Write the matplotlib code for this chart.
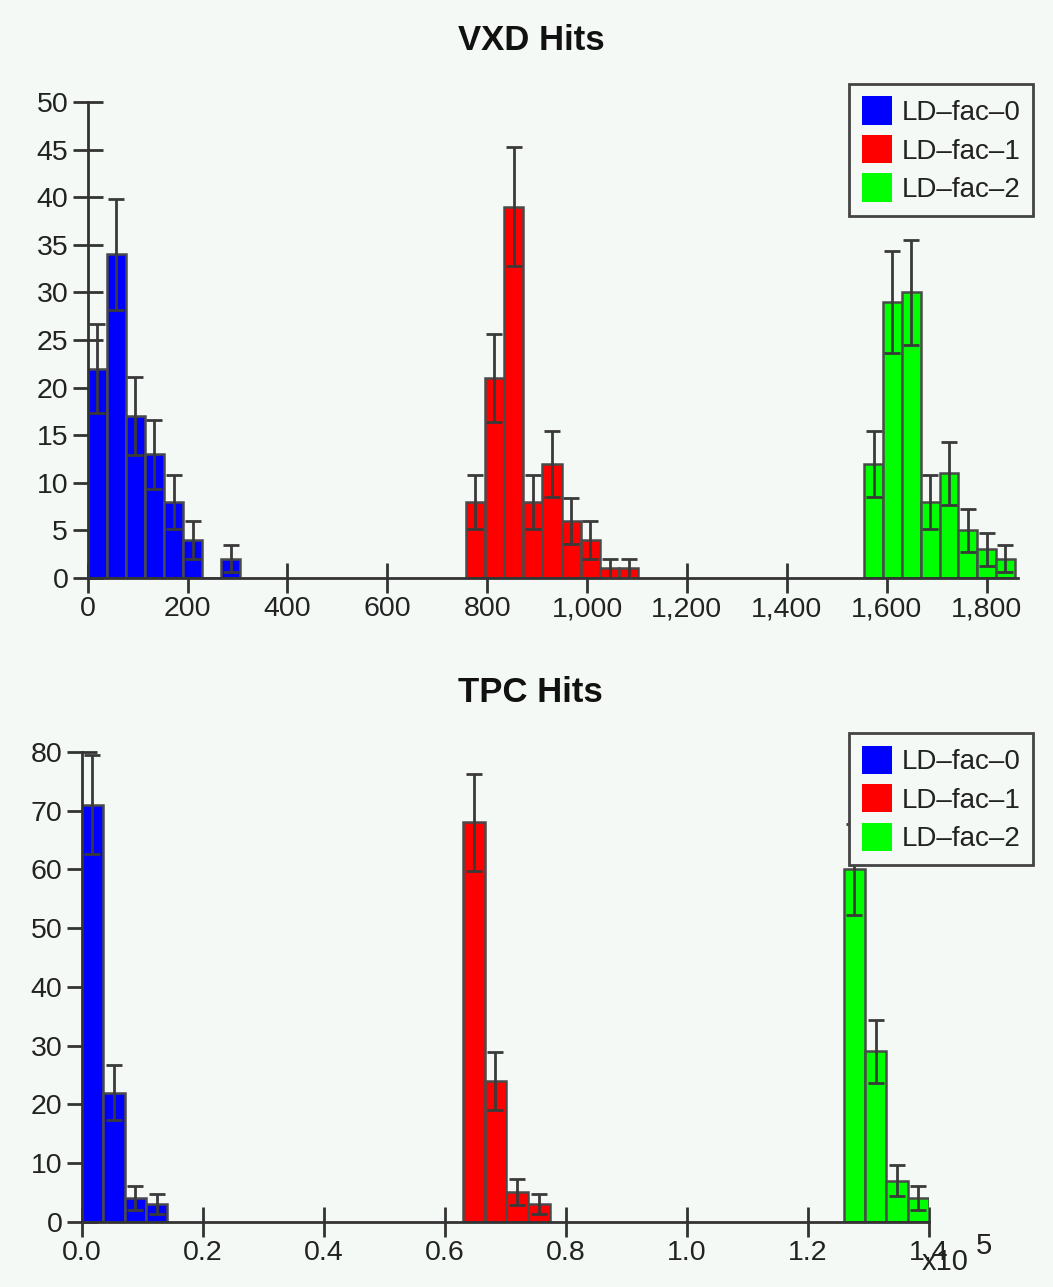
import numpy as np
import matplotlib.pyplot as plt
from matplotlib.patches import Patch
from matplotlib.ticker import FuncFormatter, MultipleLocator

plt.rcParams['font.family'] = ['Liberation Sans', 'DejaVu Sans']

# VXD hit histograms (bin start, bin width, counts per bin)
vxd_start = [0, 757, 1555]
vxd_width = [38.2, 38.4, 37.7]
vxd_counts = [
    [22, 34, 17, 13, 8, 4, 0, 2],
    [8, 21, 39, 8, 12, 6, 4, 1, 1],
    [12, 29, 30, 8, 11, 5, 3, 2],
]

# TPC hit histograms
tpc_start = [0, 63000, 125900]
tpc_width = [3540, 3580, 3525]
tpc_counts = [
    [71, 22, 4, 3],
    [68, 24, 5, 3],
    [60, 29, 7, 4],
]

labels = ['LD–fac–0', 'LD–fac–1', 'LD–fac–2']
colors = ['#0000ff', '#ff0000', '#00ff00']
bg = '#f5f9f6'

W, H = 1053, 1287
fig = plt.figure(figsize=(W / 100, H / 100), dpi=100, facecolor=bg)


def draw_hists(ax, starts, widths, counts):
    for s, w, c, col in zip(starts, widths, counts, colors):
        c = np.array(c, dtype=float)
        left = s + w * np.arange(len(c))
        ax.bar(left, c, width=w, align='edge', color=col,
               edgecolor='#4a4a4a', linewidth=1.8, zorder=2)
        m = c > 0
        ax.errorbar(left[m] + w / 2, c[m], yerr=np.sqrt(c[m]), fmt='none',
                    ecolor='#3a3a3a', elinewidth=2, capsize=6, capthick=2,
                    zorder=3)


def style(ax):
    ax.set_facecolor(bg)
    for sp in ['top', 'right']:
        ax.spines[sp].set_visible(False)
    for sp in ['left', 'bottom']:
        ax.spines[sp].set_color('#333333')
        ax.spines[sp].set_linewidth(2)
    ax.tick_params(axis='both', direction='inout', length=22, width=2,
                   color='#333333', labelsize=20.5, labelcolor='#222222')
    ax.tick_params(axis='y', pad=3)
    ax.tick_params(axis='x', pad=2)
    handles = [Patch(facecolor=c, edgecolor='none') for c in colors]
    return handles


def add_legend(ax, handles, right, top):
    leg = ax.legend(handles, labels, loc='upper right',
                    bbox_to_anchor=(right / W, 1 - top / H),
                    bbox_transform=fig.transFigure, fontsize=20,
                    frameon=True, fancybox=False, framealpha=1,
                    facecolor=bg, edgecolor='#444444', borderaxespad=0,
                    handlelength=1.08, handleheight=1.2, handletextpad=0.35,
                    labelspacing=0.32, borderpad=0.45)
    leg.get_frame().set_linewidth(2)
    for t in leg.get_texts():
        t.set_color('#222222')


# VXD panel
ax1 = fig.add_axes([87.7 / W, 1 - 578 / H, 930.3 / W, 476 / H])
draw_hists(ax1, vxd_start, vxd_width, vxd_counts)
h = style(ax1)
ax1.set_xlim(0, 1863)
ax1.set_ylim(0, 50)
ax1.xaxis.set_major_locator(MultipleLocator(200))
ax1.yaxis.set_major_locator(MultipleLocator(5))
ax1.xaxis.set_major_formatter(FuncFormatter(lambda v, _: f'{int(round(v)):,}'))
add_legend(ax1, h, 1033, 84)
fig.text(531 / W, 1 - 40 / H, 'VXD Hits', ha='center', va='center',
         fontsize=25, fontweight='bold', color='#111111')

# TPC panel
ax2 = fig.add_axes([81.7 / W, 1 - 1221.7 / H, 847.3 / W, 469.7 / H])
draw_hists(ax2, tpc_start, tpc_width, tpc_counts)
h = style(ax2)
ax2.set_xlim(0, 1.4e5)
ax2.set_ylim(0, 80)
ax2.xaxis.set_major_locator(MultipleLocator(0.2e5))
ax2.yaxis.set_major_locator(MultipleLocator(10))
ax2.xaxis.set_major_formatter(FuncFormatter(lambda v, _: f'{v / 1e5:.1f}'))
add_legend(ax2, h, 1033, 733)
fig.text(530 / W, 1 - 692 / H, 'TPC Hits', ha='center', va='center',
         fontsize=25, fontweight='bold', color='#111111')
# scale factor for the TPC axis, written under the last tick label
fig.text(922 / W, 1 - 1270 / H, 'x10', ha='left', va='baseline',
         fontsize=21, color='#222222')
fig.text(976 / W, 1 - 1254 / H, '5', ha='left', va='baseline',
         fontsize=21, color='#222222')

fig.savefig('out.png', dpi=100, facecolor=bg)
